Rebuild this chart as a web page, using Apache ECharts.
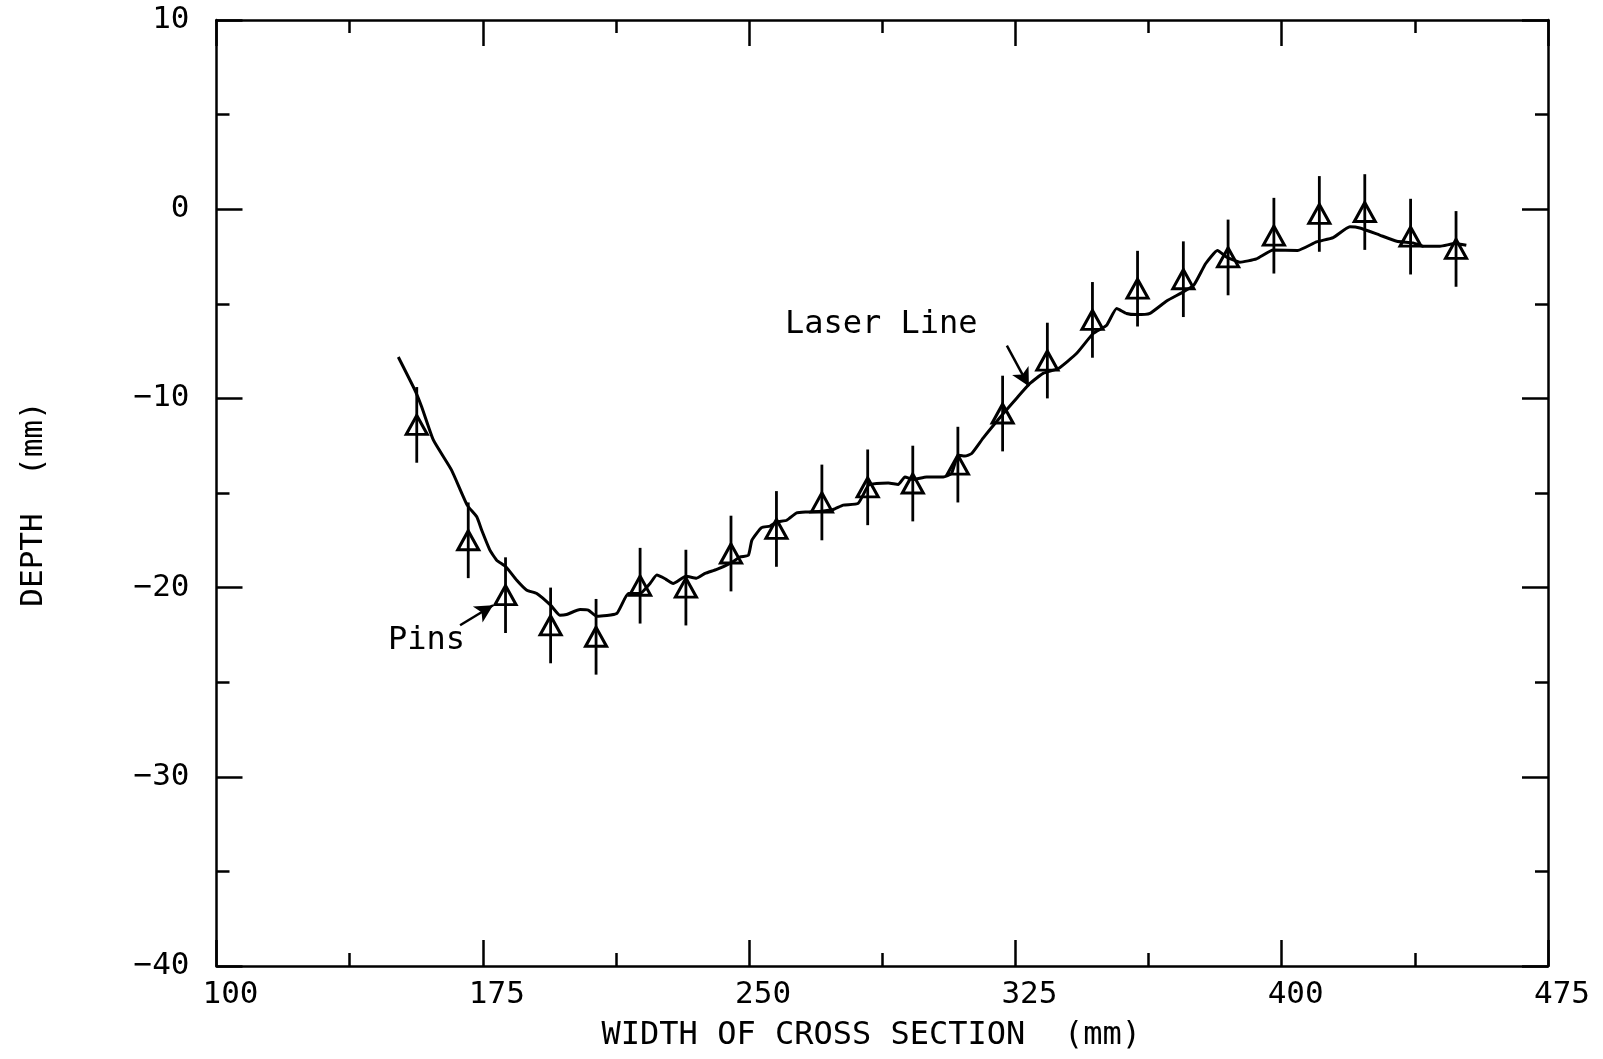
<!DOCTYPE html>
<html>
<head>
<meta charset="utf-8">
<script src="https://cdn.jsdelivr.net/npm/echarts@6/dist/echarts.min.js"></script>
<style>
html,body{margin:0;padding:0;background:#fff;}
#main{width:1603px;height:1059px;}
</style>
</head>
<body>
<div id="main"></div>
<script>
// ---- data ----
const pinX = [156.4,170.9,181.4,194.1,206.9,219.3,232.2,244.9,257.7,270.5,283.4,296.1,308.8,321.4,334.0,346.7,359.4,372.3,384.9,397.8,410.6,423.4,436.3,449.1];
const pinY = [-11.4,-17.5,-20.4,-22.0,-22.6,-19.9,-20.0,-18.2,-16.9,-15.5,-14.7,-14.5,-13.5,-10.8,-8.0,-5.85,-4.2,-3.7,-2.55,-1.4,-0.25,-0.15,-1.45,-2.1];
const pinErr = [2,2,2,2,2,2,2,2,2,2,2,2,2,2,2,2,2,2,2,2,2,2,2,2];

const laserX = [151.2,155.9,157.8,161.1,166.2,170.6,173.3,174.7,177.0,178.9,181.5,184.5,187.4,190.2,194.1,196.7,198.6,202.4,204.7,207.1,212.7,216.0,219.3,222.1,224.0,226.5,228.6,232.2,235.2,237.6,240.9,244.9,247.5,249.8,250.8,253.5,255.9,257.8,260.6,263.4,266.2,270.4,273.7,276.5,280.7,283.6,285.9,289.2,292.0,293.9,296.2,300.0,304.7,307.0,308.9,310.8,312.7,315.9,321.6,325.3,329.1,332.8,337.1,342.2,346.9,350.7,353.5,356.3,359.1,362.9,367.6,372.3,375.3,378.6,381.9,384.5,388.2,392.9,397.6,404.5,409.8,414.5,419.2,422.0,427.6,432.4,437.0,439.9,444.6,448.8,452.0];
const laserY = [-7.81,-9.57,-10.45,-12.21,-13.79,-15.64,-16.26,-16.97,-18.02,-18.55,-18.9,-19.6,-20.14,-20.31,-20.93,-21.46,-21.42,-21.16,-21.19,-21.51,-21.37,-20.31,-20.31,-19.78,-19.34,-19.55,-19.78,-19.4,-19.5,-19.25,-19.04,-18.69,-18.38,-18.29,-17.49,-16.83,-16.75,-16.53,-16.44,-16.05,-16.0,-15.96,-15.87,-15.64,-15.55,-14.59,-14.5,-14.47,-14.55,-14.15,-14.29,-14.15,-14.15,-13.97,-13.0,-13.05,-12.91,-12.1,-10.8,-10.0,-9.21,-8.68,-8.42,-7.63,-6.57,-6.13,-5.25,-5.51,-5.57,-5.5,-4.85,-4.37,-4.0,-2.87,-2.18,-2.53,-2.8,-2.63,-2.16,-2.18,-1.73,-1.5,-0.93,-0.99,-1.37,-1.69,-1.78,-1.96,-1.96,-1.81,-1.9];

const xLabelTitle = 'WIDTH OF CROSS SECTION  (mm)';
const yLabelTitle = 'DEPTH  (mm)';
const annotTexts = ['Laser Line', 'Pins'];
const annotAt = [[260.1, -6.13], [148.3, -22.83]];
const arrowFrom = [[322.6, -7.21], [168.6, -21.99]];
const arrowTo = [[328.8, -9.36], [177.9, -20.93]];

// ---- chart ----
const FONT = '"DejaVu Sans Mono", monospace';
const chart = echarts.init(document.getElementById('main'), null, {renderer:'canvas'});

function fmtNum(v){ return String(v).replace('-', '\u2212'); }

const commonTick = {show:true, inside:true, length:26, lineStyle:{color:'#000', width:2.5}};
const commonMinor = {show:true, splitNumber:2, length:13, lineStyle:{color:'#000', width:2.5}};
const axisLine = {show:true, onZero:false, lineStyle:{color:'#000', width:2.5}};

const option = {
  animation:false,
  backgroundColor:'#fff',
  grid:{left:216.5, right:55, top:20, bottom:93, containLabel:false},
  xAxis:[{
    type:'value', min:100, max:475, interval:75, position:'bottom',
    axisLine:axisLine, axisTick:commonTick, minorTick:commonMinor,
    splitLine:{show:false}, minorSplitLine:{show:false},
    axisLabel:{color:'#000', fontFamily:FONT, fontSize:31, margin:13, padding:[0,0,0,28], formatter:fmtNum},
    name:xLabelTitle, nameLocation:'middle', nameGap:54,
    nameTextStyle:{color:'#000', fontFamily:FONT, fontSize:32, padding:[0,22,0,0]}
  },{
    type:'value', min:100, max:475, interval:75, position:'top',
    axisLine:axisLine, axisTick:commonTick, minorTick:commonMinor,
    splitLine:{show:false}, axisLabel:{show:false}
  }],
  yAxis:[{
    type:'value', min:-40, max:10, interval:10, position:'left',
    axisLine:axisLine, axisTick:commonTick, minorTick:commonMinor,
    splitLine:{show:false}, minorSplitLine:{show:false},
    axisLabel:{color:'#000', fontFamily:FONT, fontSize:31, margin:27, formatter:fmtNum},
    name:yLabelTitle, nameLocation:'middle', nameGap:167, nameRotate:90,
    nameTextStyle:{color:'#000', fontFamily:FONT, fontSize:31, padding:[0,22,0,0]}
  },{
    type:'value', min:-40, max:10, interval:10, position:'right',
    axisLine:axisLine, axisTick:commonTick, minorTick:commonMinor,
    splitLine:{show:false}, axisLabel:{show:false}
  }],
  series:[
    {
      type:'line', xAxisIndex:0, yAxisIndex:0,
      data: laserX.map((x,i)=>[x, laserY[i]]),
      showSymbol:false, symbol:'none', smooth:0.15,
      lineStyle:{color:'#000', width:3},
      silent:true,
      markLine:{
        silent:true, symbol:['none','arrow'], symbolSize:[14,18],
        lineStyle:{color:'#000', width:2.5, type:'solid'},
        label:{show:false},
        data: arrowFrom.map((f,i)=>[{coord:f},{coord:arrowTo[i]}])
      }
    },
    {
      type:'custom', xAxisIndex:0, yAxisIndex:0,
      data: pinX.map((x,i)=>[x, pinY[i], pinErr[i]]),
      renderItem:function(params, api){
        const x=api.value(0), y=api.value(1), e=api.value(2);
        const p1=api.coord([x, y+e]), p2=api.coord([x, y-e]);
        return {type:'line', shape:{x1:p1[0], y1:p1[1], x2:p2[0], y2:p2[1]},
                style:{stroke:'#000', lineWidth:2.8}};
      },
      silent:true
    },
    {
      type:'scatter', xAxisIndex:0, yAxisIndex:0,
      data: pinX.map((x,i)=>[x, pinY[i]]),
      symbol:'triangle', symbolSize:[21,19],
      itemStyle:{color:'rgba(0,0,0,0)', borderColor:'#000', borderWidth:3, opacity:1},
      silent:true
    }
  ]
};
chart.setOption(option);

const g = annotTexts.map((t,i)=>{
  const p = chart.convertToPixel({gridIndex:0}, annotAt[i]);
  return {type:'text', x:p[0], y:p[1], silent:true,
    style:{text:t, fill:'#000', font:'32px ' + FONT, textAlign:'left', textVerticalAlign:'middle'}};
});
chart.setOption({graphic:g});
</script>
</body>
</html>
